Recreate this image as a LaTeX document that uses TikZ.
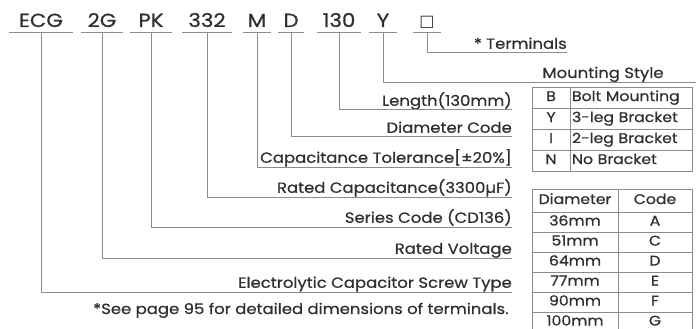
\documentclass[tikz,border=0pt]{standalone}
\usepackage{fontspec}
\setmainfont{Poppins}[FakeStretch=1.12,FakeBold=0.7]
\newfontfamily\symfont{DejaVu Sans}
\usetikzlibrary{matrix,positioning}
\definecolor{Ink}{HTML}{303030}
\definecolor{RuleGray}{HTML}{8C8C8C}
\tikzset{
  pnCode/.style={anchor=base,font=\fontsize{19}{19}\selectfont,text=Ink,
    inner sep=0pt,text depth=0pt,outer ysep=6pt},
  pnLabel/.style={anchor=south east,font=\fontsize{14.7}{15}\selectfont,text=Ink,
    inner sep=0pt,text depth=4pt},
  pnNote/.style={anchor=base west,font=\fontsize{14.7}{15}\selectfont,text=Ink,inner sep=0pt},
  leader/.style={draw=RuleGray,line width=1pt},
  cell/.style={draw=RuleGray,line width=1pt,font=\fontsize{14}{14}\selectfont,text=Ink,
    inner sep=2pt,text height=9.5pt,text depth=2.5pt},
  mtable/.style={matrix of nodes,row sep=-1pt,column sep=-1pt,
    nodes={cell,minimum height=21pt}},
}
\begin{document}
\begin{tikzpicture}[x=1pt,y=-1pt]
  \useasboundingbox (0,0) rectangle (697,329);
  % part number
  \node[pnCode,minimum width=63pt] (cEcg) at (41,27) {ECG};
  \node[pnCode,minimum width=42pt] (cVolt) at (102,27) {2G};
  \node[pnCode,minimum width=42pt] (cSeries) at (151,27) {PK};
  \node[pnCode,minimum width=50pt] (cCap) at (207,27) {332};
  \node[pnCode,minimum width=27pt] (cTol) at (257,27) {M};
  \node[pnCode,minimum width=25pt] (cDia) at (291,27) {D};
  \node[pnCode,minimum width=44pt] (cLen) at (339,27) {130};
  \node[pnCode,minimum width=27pt] (cMount) at (383,27) {Y};
  \node[pnCode,minimum width=27pt,font=\symfont\fontsize{16}{16}\selectfont] (cTerm) at (427,27) {□};
  \foreach \c in {cEcg,cVolt,cSeries,cCap,cTol,cDia,cLen,cMount,cTerm}{
    \draw[leader] (\c.south west)--(\c.south east);}
  % labels
  \node[pnLabel] (lTerm) at (567,53) {* Terminals};
  \node[pnLabel] (lLen) at (512,110) {Length(130mm)};
  \node[pnLabel] (lDia) at (512,137) {Diameter Code};
  \node[pnLabel] (lTol) at (512,167) {Capacitance Tolerance[±20\%]};
  \node[pnLabel] (lCap) at (512,197) {Rated Capacitance(3300µF)};
  \node[pnLabel] (lSeries) at (512,227) {Series Code (CD136)};
  \node[pnLabel] (lVolt) at (512,258) {Rated Voltage};
  \node[pnLabel] (lEcg) at (512,292) {Electrolytic Capacitor Screw Type};
  \node[pnNote] (note) at (93,314) {*See page 95 for detailed dimensions of terminals.};
  % mounting style table
  \matrix (mount) [mtable,anchor=north west,
    column 1/.style={nodes={minimum width=38pt}},
    column 2/.style={nodes={text width=118pt,align=left}}] at (528,83) {
    B & Bolt Mounting \\
    Y & 3-leg Bracket \\
    I & 2-leg Bracket \\
    N & No Bracket \\
  };
  \node[pnLabel,anchor=base,text depth=0pt] (tMount) at (603,78) {Mounting Style};
  % diameter table
  \matrix (dia) [mtable,anchor=north west,nodes={minimum height=20pt},
    column 1/.style={nodes={minimum width=86pt}},
    column 2/.style={nodes={minimum width=74pt}},
    row 1/.style={nodes={minimum height=23pt}}] at (528,185) {
    Diameter & Code \\
    36mm & A \\
    51mm & C \\
    64mm & D \\
    77mm & E \\
    90mm & F \\
    100mm & G \\
  };
  % leaders
  \draw[leader] (cTerm.south) |- (lTerm.south east);
  \draw[leader] (cMount.south) |- (mount.north east);
  \draw[leader] (cLen.south) |- (lLen.south east);
  \draw[leader] (cDia.south) |- (lDia.south east);
  \draw[leader] (cTol.south) |- (lTol.south east);
  \draw[leader] (cCap.south) |- (lCap.south east);
  \draw[leader] (cSeries.south) |- (lSeries.south east);
  \draw[leader] (cVolt.south) |- (lVolt.south east);
  \draw[leader] (cEcg.south) |- (lEcg.south east);
\end{tikzpicture}
\end{document}
